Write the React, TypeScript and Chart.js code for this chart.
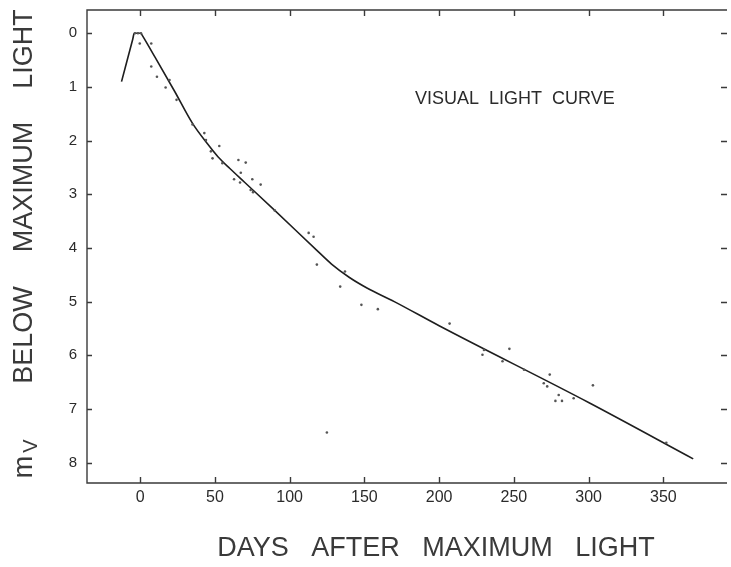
import React, { useEffect, useRef } from "react";
import { Chart, registerables } from "chart.js";

Chart.register(...registerables);

// Smooth visual light curve (days after maximum, magnitudes below maximum)
const curveDays = [-12.5, -5, -4, 0.5, 1.5, 10, 23, 35, 45, 52, 60, 70, 90, 118, 128, 140, 152, 170, 200, 300, 370];
const curveMags = [0.9, 0.11, 0, 0, 0.045, 0.45, 1.08, 1.68, 2.06, 2.3, 2.52, 2.78, 3.3, 4.04, 4.3, 4.55, 4.75, 5.0, 5.45, 6.88, 7.93];

// Individual observations
const obsDays = [
  -3.5, -1.5, 0.5, -0.3, 7.4, 7.4, 11.2, 17, 19.6, 24.3, 35, 42.9, 44, 47.3, 48.4, 52.9, 55,
  65.7, 70.6, 62.8, 67.3, 66.8, 75, 80.6, 73.9, 75.5, 90, 112.7, 116, 118.2, 124.9, 137, 133.8,
  148, 159, 207, 229, 230, 247, 242.4, 256.8, 274, 270, 272.3, 280, 277.8, 282.2, 290, 302.9, 352,
];
const obsMags = [
  0, 0, 0, 0.19, 0.19, 0.62, 0.81, 1.01, 0.87, 1.24, 1.7, 1.86, 1.99, 2.2, 2.33, 2.1, 2.42,
  2.36, 2.41, 2.72, 2.6, 2.78, 2.72, 2.82, 2.92, 2.96, 3.3, 3.72, 3.79, 4.31, 7.44, 4.44, 4.72,
  5.06, 5.14, 5.41, 5.99, 5.9, 5.88, 6.11, 6.27, 6.36, 6.52, 6.58, 6.74, 6.85, 6.85, 6.8, 6.56, 7.63,
];

const xTickValues = [0, 50, 100, 150, 200, 250, 300, 350];
const yTickValues = [0, 1, 2, 3, 4, 5, 6, 7, 8];

const xTitle = "DAYS   AFTER   MAXIMUM   LIGHT";
// y-axis title words, read upward (m with subscript V, then the words)
const yTitleWords = ["BELOW", "MAXIMUM", "LIGHT"];
const yTitleSymbol = "m";
const yTitleSubscript = "V";
const annotation = "VISUAL  LIGHT  CURVE";

const FONT = "'Liberation Sans', Arial, sans-serif";
const INK = "#2b2b2b";
const TITLE_INK = "#3a3a3a";

const framePlugin = {
  id: "frameAndText",
  afterDraw(chart: any) {
    const { ctx, chartArea, scales } = chart;
    const { left, top, right, bottom } = chartArea;
    const x = scales.x;
    const y = scales.y;
    ctx.save();
    ctx.strokeStyle = "#3a3a3a";
    ctx.lineWidth = 1.4;
    ctx.beginPath();
    ctx.moveTo(right, top);
    ctx.lineTo(left, top);
    ctx.lineTo(left, bottom);
    ctx.lineTo(right, bottom);
    for (const v of xTickValues) {
      const px = Math.round(x.getPixelForValue(v)) + 0.5;
      ctx.moveTo(px, bottom);
      ctx.lineTo(px, bottom - 6);
      ctx.moveTo(px, top);
      ctx.lineTo(px, top + 6);
    }
    for (const v of yTickValues) {
      const py = Math.round(y.getPixelForValue(v)) + 0.5;
      ctx.moveTo(left, py);
      ctx.lineTo(left + 5, py);
      ctx.moveTo(right - 6, py);
      ctx.lineTo(right, py);
    }
    ctx.stroke();

    ctx.fillStyle = INK;
    ctx.textBaseline = "middle";
    ctx.font = `18px ${FONT}`;
    ctx.textAlign = "left";
    ctx.fillText(annotation, 415, 99);

    ctx.fillStyle = TITLE_INK;
    ctx.font = `27px ${FONT}`;
    ctx.textAlign = "center";
    ctx.fillText(xTitle, 436, 549);

    // rotated y-axis title, read bottom to top
    ctx.save();
    ctx.translate(25, 0);
    ctx.rotate(-Math.PI / 2);
    const centers = [335, 187, 49];
    ctx.font = `27px ${FONT}`;
    ctx.textAlign = "center";
    yTitleWords.forEach((w, i) => ctx.fillText(w, -centers[i], 0));
    ctx.fillText(yTitleSymbol, -467, 0);
    ctx.font = `20px ${FONT}`;
    ctx.fillText(yTitleSubscript, -446, 6);
    ctx.restore();

    ctx.restore();
  },
};

export default function App() {
  const canvasRef = useRef<HTMLCanvasElement | null>(null);

  useEffect(() => {
    const canvas = canvasRef.current;
    if (!canvas) return;
    const chart = new Chart(canvas, {
      type: "scatter",
      data: {
        datasets: [
          {
            label: "Observations",
            data: obsDays.map((d, i) => ({ x: d, y: obsMags[i] })),
            pointRadius: 1.3,
            pointBackgroundColor: "#555",
            pointBorderWidth: 0,
            showLine: false,
          },
          {
            label: "Visual light curve",
            data: curveDays.map((d, i) => ({ x: d, y: curveMags[i] })),
            showLine: true,
            borderColor: "#1e1e1e",
            borderWidth: 1.6,
            pointRadius: 0,
            cubicInterpolationMode: "monotone",
            fill: false,
          },
        ],
      },
      options: {
        animation: false,
        responsive: false,
        devicePixelRatio: 1,
        layout: { padding: { left: 0, top: 10, right: -5, bottom: 0 } },
        plugins: {
          legend: { display: false },
          tooltip: { enabled: false },
          title: { display: false },
        },
        scales: {
          x: {
            type: "linear",
            min: -35.6,
            max: 392.6,
            grid: { display: false, drawTicks: false },
            border: { display: false },
            afterBuildTicks: (scale: any) => {
              scale.ticks = xTickValues.map((v) => ({ value: v }));
            },
            afterFit: (scale: any) => {
              scale.height = 84;
              scale.paddingLeft = 0;
              scale.paddingRight = 0;
            },
            ticks: {
              autoSkip: false,
              maxRotation: 0,
              padding: 0,
              color: INK,
              font: { family: FONT, size: 16, lineHeight: 1.8 },
            },
            title: { display: false },
          },
          y: {
            type: "linear",
            reverse: true,
            min: -0.434,
            max: 8.38,
            grid: { display: false, drawTicks: false },
            border: { display: false },
            afterBuildTicks: (scale: any) => {
              scale.ticks = yTickValues.map((v) => ({ value: v }));
            },
            afterFit: (scale: any) => {
              scale.width = 87;
              scale.paddingTop = 0;
              scale.paddingBottom = 0;
            },
            ticks: {
              autoSkip: false,
              padding: 10,
              color: INK,
              font: { family: FONT, size: 15 },
            },
            title: { display: false },
          },
        },
      },
      plugins: [framePlugin],
    });
    return () => chart.destroy();
  }, []);

  return (
    <div style={{ position: "absolute", left: 0, top: 0, width: 731, height: 567, background: "#fff" }}>
      <canvas ref={canvasRef} width={731} height={567} style={{ display: "block" }} />
    </div>
  );
}
